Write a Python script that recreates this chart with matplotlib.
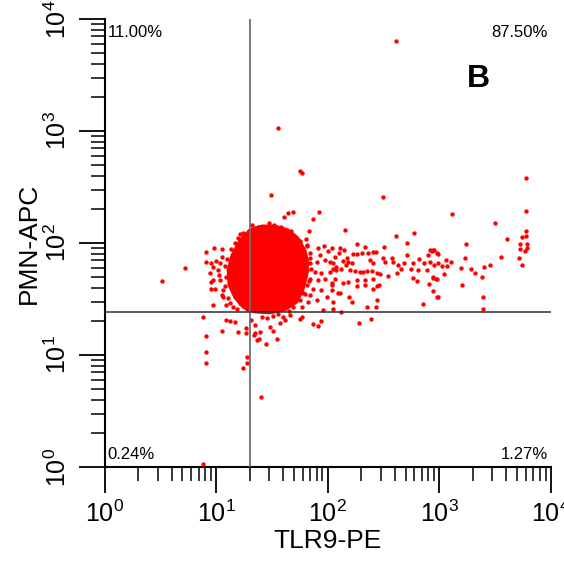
import numpy as np
import matplotlib
matplotlib.use("Agg")
import matplotlib.pyplot as plt
from matplotlib.ticker import LogLocator, NullFormatter

plt.rcParams['font.family'] = ['Liberation Sans', 'DejaVu Sans']

# quadrant gates (TLR9-PE, PMN-APC)
tlr9_gate = 20
pmn_gate = 24

# quadrant percentages: upper-left, upper-right, lower-left, lower-right
quad_pct = ["11.00%", "87.50%", "0.24%", "1.27%"]

# outline of the dense, saturated core of the population
core_tlr9 = [12.8, 13.9, 16.4, 20.1, 25.8, 33.7, 44.1, 54.2, 62.6, 66.6,
             65.3, 60.1, 53.1, 41.4, 30.4, 22.3, 17.4, 14.8, 13.05]
core_pmn = [57.4, 78.1, 106, 131, 142, 142, 131, 111, 86.6, 67.6,
            51.8, 38.0, 29.7, 25.2, 23.7, 24.2, 26.8, 32.3, 42.2]

# single events (TLR9, PMN)
far_events = [
    (410, 6400), (36, 1060), (57, 440), (59, 420), (31, 267), (311, 258),
    (5990, 380), (1310, 183), (6030, 193), (3160, 152), (84, 190), (49, 188),
    (44, 186), (41, 172), (74, 164), (142, 130), (68, 127), (410, 115),
    (590, 124), (4020, 108), (5520, 114), (5990, 127), (6030, 116), (5330, 98),
    (6160, 97), (5260, 89), (5870, 85), (6080, 90), (5220, 74), (5520, 64),
    (3560, 75), (2850, 64), (2550, 61), (2400, 50), (2090, 54), (1915, 59),
    (1730, 97), (1690, 73), (1560, 60), (1600, 42), (2480, 33), (2480, 25.6),
    (1290, 68), (1145, 70), (1170, 62), (1050, 62), (1110, 53), (970, 79),
    (900, 87), (857, 84), (827, 87), (898, 63), (874, 50), (936, 48),
    (874, 37), (969, 33),
]

tail_events = [
    (518, 99), (182, 97), (319, 92), (216, 92), (257, 83), (272, 83), (231, 82),
    (202, 82), (169, 80), (185, 80), (140, 86), (129, 91), (109, 91), (127, 81),
    (116, 75), (105, 68), (148, 74), (138, 69), (153, 68), (164, 66), (146, 63),
    (120, 61), (111, 59), (132, 59), (158, 57), (176, 56), (195, 55), (209, 55),
    (224, 56), (249, 56), (279, 54), (240, 70), (254, 66), (315, 73), (327, 67),
    (375, 74), (383, 67), (430, 64), (452, 58), (483, 66), (512, 78), (578, 66),
    (555, 58), (650, 57), (664, 72), (730, 66), (827, 68), (798, 78), (885, 87),
    (950, 81), (981, 66), (773, 57), (885, 49), (950, 48), (805, 43), (629, 46),
    (585, 49), (416, 54), (350, 51), (294, 53), (257, 48), (216, 47), (182, 47),
    (153, 45), (138, 44), (116, 48), (109, 44), (109, 38), (129, 36), (156, 33),
    (167, 30), (111, 30), (216, 42), (185, 41), (257, 39), (276, 41), (290, 42),
    (276, 31), (272, 27), (227, 27), (720, 28.5), (962, 33), (131, 24), (244, 21),
    (192, 19.4), (74, 19), (82, 18), (87, 20), (57, 21),
]

fringe_events = [
    (5.3, 60), (3.3, 46), (8.2, 83), (8.2, 68), (9.6, 91), (11.2, 88), (9.4, 61),
    (9.1, 45), (9.0, 39), (9.4, 28), (10.4, 57), (10.8, 47), (11.6, 33), (12.4, 28),
    (14.2, 27), (9.1, 66), (10.0, 69.5), (11.2, 75), (10.8, 66), (8.9, 54),
    (10.6, 52), (9.4, 47), (9.8, 39), (12.0, 41), (11.6, 38), (11.2, 34), (12.8, 32),
    (13.3, 29), (16.4, 29), (18.2, 27), (16.4, 120), (17.5, 122), (19.8, 129),
    (22.3, 135), (23.9, 138), (26.5, 140), (28.8, 138), (15.3, 38), (32.9, 145),
    (49, 118), (64, 108), (65, 94), (69.5, 81), (82, 90), (93, 94), (101, 84),
    (85, 78), (69.5, 66), (80, 68), (95, 70), (112, 66), (65, 57), (77, 55),
    (88, 54), (105, 55), (120, 57), (69.5, 48), (82, 47), (95, 48), (109, 42),
    (65, 42), (74, 39), (88, 38), (60, 36), (69.5, 34), (98, 33), (56.5, 31),
    (67, 30), (80, 31), (49, 27), (58.5, 26.7), (91, 25), (125, 36), (112, 26),
    (58.5, 22), (46, 22.7), (40, 22), (32.5, 22.3),
    (12.2, 50), (12.0, 62), (12.6, 72), (13.5, 88), (14.8, 100), (15.6, 110),
    (21, 146), (30, 150), (38, 140), (47, 128), (57, 104), (66, 96), (70, 74),
    (71, 58), (68, 46), (63, 35), (45, 24.5), (36, 23), (19, 25.5), (15.5, 26),
]

low_events = [
    (7.6, 21.8), (8.1, 14.9), (8.1, 10.7), (8.1, 8.4), (7.6, 1.06), (11.2, 16.4),
    (12.3, 20.5), (13.3, 20.0), (14.8, 19.8), (15.6, 16.1), (18.6, 17.3),
    (18.5, 15.6), (18.9, 9.5), (18.9, 8.4), (17.6, 7.6), (25.5, 4.2), (24.4, 14),
    (27.9, 12.5), (35.1, 14), (21.8, 15.1), (20.7, 20.5), (22.3, 18.5),
    (25.7, 22), (24.8, 16.1), (30.4, 17.9), (37.4, 19.2), (32.1, 16.4),
    (41.4, 20.5), (28.5, 21.3), (23.4, 13.6), (22.3, 15.6),
]

events = np.array(far_events + tail_events + fringe_events + low_events)

fig = plt.figure(figsize=(5.64, 5.67), dpi=100)
ax = fig.add_axes([0.1853, 0.1764, 0.7911, 0.7901])
ax.set_xscale('log')
ax.set_yscale('log')
ax.set_xlim(1, 1e4)
ax.set_ylim(1, 1e4)

red = '#ff0000'
ax.fill(core_tlr9, core_pmn, color=red, lw=2, ec=red, zorder=2)
ax.scatter(events[:, 0], events[:, 1], s=10, color=red, linewidths=0, zorder=3)

# quadrant lines
ax.axvline(tlr9_gate, color='#707070', lw=1.3, zorder=4)
ax.axhline(pmn_gate, color='#303030', lw=1.1, zorder=4)

for side in ['top', 'right']:
    ax.spines[side].set_visible(False)
for side in ['left', 'bottom']:
    ax.spines[side].set_linewidth(1.5)

for axis in [ax.xaxis, ax.yaxis]:
    axis.set_major_locator(LogLocator(base=10, numticks=10))
    axis.set_minor_locator(LogLocator(base=10, subs=np.arange(2, 10), numticks=20))
    axis.set_minor_formatter(NullFormatter())
ax.tick_params(which='major', direction='out', length=19, width=1.3, labelsize=18, pad=5)
ax.tick_params(which='minor', direction='out', length=10, width=1.1)
for lab in ax.get_yticklabels():
    lab.set_rotation(90)
    lab.set_va('center')

ax.set_xlabel('TLR9-PE', fontsize=19, labelpad=2)
ax.set_ylabel('PMN-APC', fontsize=19, labelpad=3)

ax.text(0.007, 0.987, quad_pct[0], transform=ax.transAxes, fontsize=12, ha='left', va='top')
ax.text(0.994, 0.987, quad_pct[1], transform=ax.transAxes, fontsize=12, ha='right', va='top')
ax.text(0.007, 0.012, quad_pct[2], transform=ax.transAxes, fontsize=12, ha='left', va='bottom')
ax.text(0.994, 0.012, quad_pct[3], transform=ax.transAxes, fontsize=12, ha='right', va='bottom')
ax.text(0.837, 0.867, 'B', transform=ax.transAxes, fontsize=23, fontweight='bold',
        ha='center', va='center')

fig.savefig('out.png', dpi=100)
